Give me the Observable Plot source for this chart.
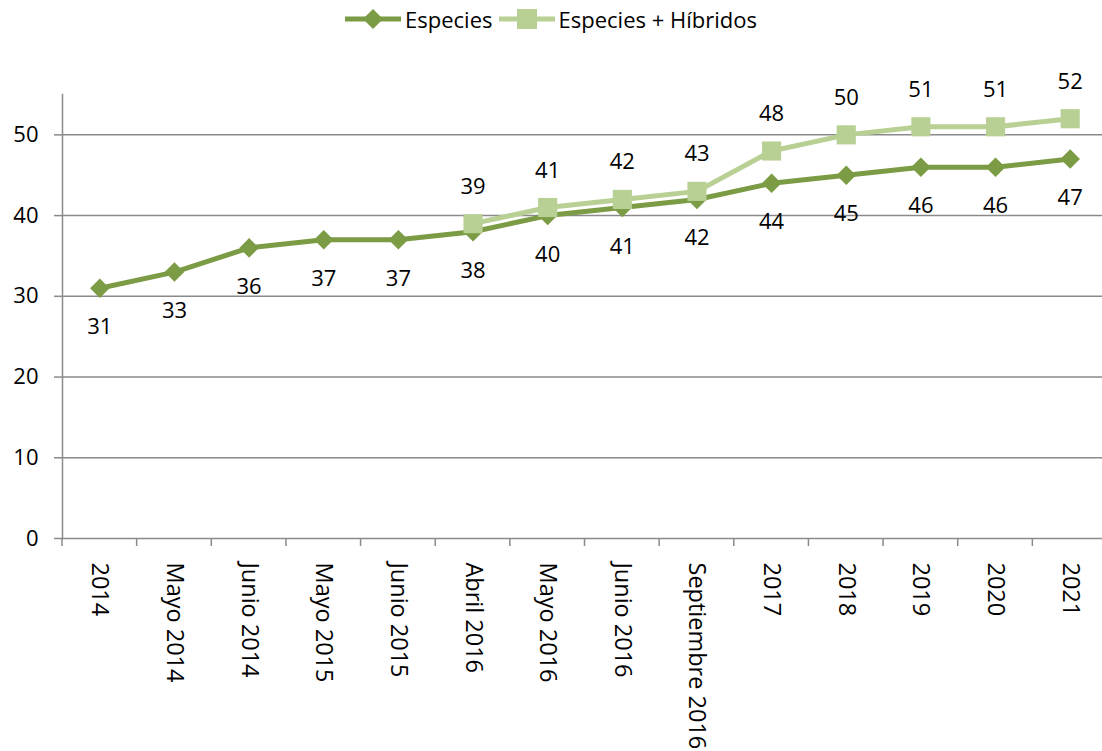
<!DOCTYPE html>
<html>
<head>
<meta charset="utf-8">
<script src="https://cdn.jsdelivr.net/npm/d3@7"></script>
<script src="https://cdn.jsdelivr.net/npm/@observablehq/plot@0.6"></script>
<style>
  html, body { margin: 0; padding: 0; background: #fff; }
  body { width: 1102px; height: 751px; overflow: hidden; font-family: "Open Sans", sans-serif; }
  #legend { height: 38px; display: flex; justify-content: center; align-items: center; gap: 0; font-size: 22px; color: #000; }
  .item { display: flex; align-items: center; }
  .item svg { margin-right: 4px; }
  .item + .item { margin-left: 6px; }
</style>
</head>
<body>
<div id="legend"></div>
<div id="chart"></div>
<script>
const categories = ["2014", "Mayo 2014", "Junio 2014", "Mayo 2015", "Junio 2015", "Abril 2016", "Mayo 2016", "Junio 2016", "Septiembre 2016", "2017", "2018", "2019", "2020", "2021"];
const especies = [31, 33, 36, 37, 37, 38, 40, 41, 42, 44, 45, 46, 46, 47];
const hibridos = [null, null, null, null, null, 39, 41, 42, 43, 48, 50, 51, 51, 52];
const yTicks = [0, 10, 20, 30, 40, 50];
const seriesNames = ["Especies", "Especies + Híbridos"];

const dark = "#7b9b44";
const light = "#b8d094";
const gray = "#8a8a8a";

const dataEsp = categories.map((c, i) => ({cat: c, v: especies[i]}));
const dataHib = categories.map((c, i) => ({cat: c, v: hibridos[i]})).filter(d => d.v != null);

// legend
const legend = document.getElementById("legend");
const swatches = [
  `<svg width="56" height="24"><line x1="0" y1="12" x2="56" y2="12" stroke="${dark}" stroke-width="5"/><polygon points="28,2 38,12 28,22 18,12" fill="${dark}"/></svg>`,
  `<svg width="56" height="24"><line x1="0" y1="12" x2="56" y2="12" stroke="${light}" stroke-width="5"/><rect x="18" y="2" width="20" height="20" fill="${light}"/></svg>`
];
seriesNames.forEach((name, i) => {
  const el = document.createElement("div");
  el.className = "item";
  el.innerHTML = swatches[i] + `<span>${name}</span>`;
  legend.appendChild(el);
});

const boundaryTicks = (index, scales, values, dimensions) => {
  const g = d3.create("svg:g");
  const x = scales.x;
  const bw = x.bandwidth();
  const y0 = scales.y(0);
  const xs = categories.map(c => x(c)).concat([x(categories[categories.length - 1]) + bw]);
  g.selectAll("line").data(xs).join("line")
    .attr("x1", d => d).attr("x2", d => d)
    .attr("y1", y0).attr("y2", y0 + 8)
    .attr("stroke", gray).attr("stroke-width", 1.5);
  return g.node();
};

const chart = Plot.plot({
  width: 1102,
  height: 713,
  marginTop: 56,
  marginBottom: 213,
  marginLeft: 62,
  marginRight: 0,
  style: {fontFamily: "Open Sans, sans-serif", fontSize: "22px", color: "#000", background: "#fff", overflow: "visible"},
  x: {type: "band", domain: categories, range: [62, 1107], padding: 0, round: false},
  y: {domain: [0, 55]},
  marks: [
    Plot.gridY(yTicks.filter(t => t > 0), {stroke: gray, strokeOpacity: 1, strokeWidth: 1.5}),
    Plot.frame({anchor: "left", stroke: gray, strokeWidth: 1.5}),
    Plot.frame({anchor: "bottom", stroke: gray, strokeWidth: 1.5}),
    Plot.axisY({ticks: yTicks, tickSize: 8, tickPadding: 16, stroke: gray, strokeWidth: 1.5, fill: "#000", fontSize: 22, label: null}),
    Plot.axisX({tickSize: 0, tickRotate: 90, tickPadding: 24, fontSize: 23.5, fill: "#000", label: null}),
    boundaryTicks,
    Plot.line(dataEsp, {x: "cat", y: "v", stroke: dark, strokeWidth: 5}),
    Plot.dot(dataEsp, {x: "cat", y: "v", symbol: "diamond2", r: 8.8, fill: dark, stroke: "none"}),
    Plot.line(dataHib, {x: "cat", y: "v", stroke: light, strokeWidth: 5}),
    Plot.dot(dataHib, {x: "cat", y: "v", symbol: "square", r: 10.8, fill: light, stroke: "none"}),
    Plot.text(dataEsp, {x: "cat", y: "v", text: d => String(d.v), dy: 39, fontSize: 22, fill: "#000"}),
    Plot.text(dataHib, {x: "cat", y: "v", text: d => String(d.v), dy: -37, fontSize: 22, fill: "#000"})
  ]
});
document.getElementById("chart").appendChild(chart);
</script>
</body>
</html>
